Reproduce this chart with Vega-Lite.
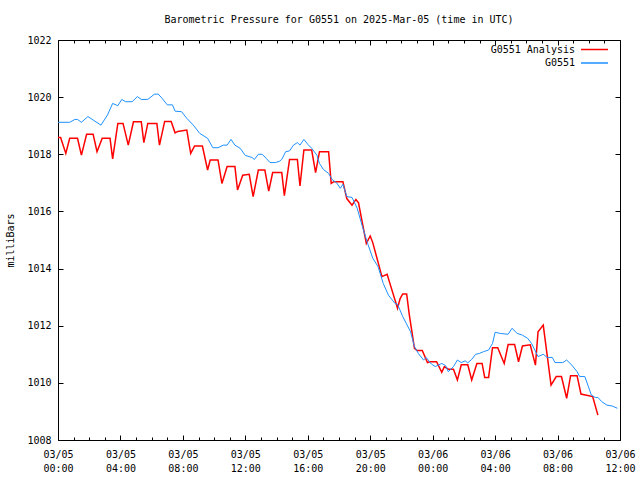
{
  "$schema": "https://vega.github.io/schema/vega-lite/v6.json",
  "width": 562,
  "height": 400,
  "autosize": {"type": "none"},
  "padding": {"left": 58, "top": 40, "right": 20, "bottom": 40},
  "background": "white",
  "title": {
    "text": "Barometric Pressure for G0551 on 2025-Mar-05 (time in UTC)",
    "font": "DejaVu Sans Mono",
    "fontSize": 10,
    "fontWeight": "normal",
    "color": "black",
    "anchor": "middle",
    "frame": "group",
    "offset": 10
  },
  "config": {
    "view": {"stroke": "black", "strokeWidth": 1},
    "axis": {
      "grid": false,
      "domain": false,
      "labelFont": "DejaVu Sans Mono",
      "labelFontSize": 10,
      "labelColor": "black",
      "tickColor": "black",
      "tickWidth": 1,
      "titleFont": "DejaVu Sans Mono",
      "titleFontSize": 10,
      "titleFontWeight": "normal",
      "titleColor": "black"
    },
    "legend": {
      "orient": "none",
      "legendX": 529,
      "legendY": 2,
      "symbolType": "M-2,0H2",
      "symbolSize": 182,
      "symbolStrokeWidth": 1.5,
      "labelFont": "DejaVu Sans Mono",
      "labelFontSize": 10,
      "labelColor": "black",
      "labelAlign": "right",
      "labelOffset": -27,
      "rowPadding": 0.5,
      "padding": 0
    }
  },
  "data": {
    "values": [
      {"t": "2025-03-05T00:00:00Z", "p": 1018.59, "s": "G0551 Analysis"},
      {"t": "2025-03-05T00:10:00Z", "p": 1018.59, "s": "G0551 Analysis"},
      {"t": "2025-03-05T00:30:00Z", "p": 1018.03, "s": "G0551 Analysis"},
      {"t": "2025-03-05T00:45:00Z", "p": 1018.56, "s": "G0551 Analysis"},
      {"t": "2025-03-05T01:15:00Z", "p": 1018.56, "s": "G0551 Analysis"},
      {"t": "2025-03-05T01:30:00Z", "p": 1017.97, "s": "G0551 Analysis"},
      {"t": "2025-03-05T01:50:00Z", "p": 1018.70, "s": "G0551 Analysis"},
      {"t": "2025-03-05T02:15:00Z", "p": 1018.70, "s": "G0551 Analysis"},
      {"t": "2025-03-05T02:30:00Z", "p": 1018.09, "s": "G0551 Analysis"},
      {"t": "2025-03-05T02:50:00Z", "p": 1018.56, "s": "G0551 Analysis"},
      {"t": "2025-03-05T03:20:00Z", "p": 1018.56, "s": "G0551 Analysis"},
      {"t": "2025-03-05T03:30:00Z", "p": 1017.84, "s": "G0551 Analysis"},
      {"t": "2025-03-05T03:50:00Z", "p": 1019.08, "s": "G0551 Analysis"},
      {"t": "2025-03-05T04:10:00Z", "p": 1019.08, "s": "G0551 Analysis"},
      {"t": "2025-03-05T04:30:00Z", "p": 1018.32, "s": "G0551 Analysis"},
      {"t": "2025-03-05T04:50:00Z", "p": 1019.14, "s": "G0551 Analysis"},
      {"t": "2025-03-05T05:20:00Z", "p": 1019.14, "s": "G0551 Analysis"},
      {"t": "2025-03-05T05:30:00Z", "p": 1018.41, "s": "G0551 Analysis"},
      {"t": "2025-03-05T05:45:00Z", "p": 1019.08, "s": "G0551 Analysis"},
      {"t": "2025-03-05T06:20:00Z", "p": 1019.08, "s": "G0551 Analysis"},
      {"t": "2025-03-05T06:30:00Z", "p": 1018.32, "s": "G0551 Analysis"},
      {"t": "2025-03-05T06:50:00Z", "p": 1019.15, "s": "G0551 Analysis"},
      {"t": "2025-03-05T07:15:00Z", "p": 1019.15, "s": "G0551 Analysis"},
      {"t": "2025-03-05T07:30:00Z", "p": 1018.75, "s": "G0551 Analysis"},
      {"t": "2025-03-05T07:40:00Z", "p": 1018.80, "s": "G0551 Analysis"},
      {"t": "2025-03-05T08:15:00Z", "p": 1018.85, "s": "G0551 Analysis"},
      {"t": "2025-03-05T08:30:00Z", "p": 1018.03, "s": "G0551 Analysis"},
      {"t": "2025-03-05T08:45:00Z", "p": 1018.29, "s": "G0551 Analysis"},
      {"t": "2025-03-05T09:15:00Z", "p": 1018.29, "s": "G0551 Analysis"},
      {"t": "2025-03-05T09:35:00Z", "p": 1017.45, "s": "G0551 Analysis"},
      {"t": "2025-03-05T09:45:00Z", "p": 1017.80, "s": "G0551 Analysis"},
      {"t": "2025-03-05T10:15:00Z", "p": 1017.80, "s": "G0551 Analysis"},
      {"t": "2025-03-05T10:30:00Z", "p": 1016.98, "s": "G0551 Analysis"},
      {"t": "2025-03-05T10:50:00Z", "p": 1017.57, "s": "G0551 Analysis"},
      {"t": "2025-03-05T11:20:00Z", "p": 1017.57, "s": "G0551 Analysis"},
      {"t": "2025-03-05T11:30:00Z", "p": 1016.75, "s": "G0551 Analysis"},
      {"t": "2025-03-05T11:50:00Z", "p": 1017.27, "s": "G0551 Analysis"},
      {"t": "2025-03-05T12:15:00Z", "p": 1017.30, "s": "G0551 Analysis"},
      {"t": "2025-03-05T12:30:00Z", "p": 1016.52, "s": "G0551 Analysis"},
      {"t": "2025-03-05T12:50:00Z", "p": 1017.45, "s": "G0551 Analysis"},
      {"t": "2025-03-05T13:15:00Z", "p": 1017.45, "s": "G0551 Analysis"},
      {"t": "2025-03-05T13:30:00Z", "p": 1016.71, "s": "G0551 Analysis"},
      {"t": "2025-03-05T13:45:00Z", "p": 1017.36, "s": "G0551 Analysis"},
      {"t": "2025-03-05T14:20:00Z", "p": 1017.36, "s": "G0551 Analysis"},
      {"t": "2025-03-05T14:30:00Z", "p": 1016.55, "s": "G0551 Analysis"},
      {"t": "2025-03-05T14:50:00Z", "p": 1017.82, "s": "G0551 Analysis"},
      {"t": "2025-03-05T15:20:00Z", "p": 1017.82, "s": "G0551 Analysis"},
      {"t": "2025-03-05T15:30:00Z", "p": 1016.89, "s": "G0551 Analysis"},
      {"t": "2025-03-05T15:45:00Z", "p": 1018.15, "s": "G0551 Analysis"},
      {"t": "2025-03-05T16:15:00Z", "p": 1018.15, "s": "G0551 Analysis"},
      {"t": "2025-03-05T16:30:00Z", "p": 1017.36, "s": "G0551 Analysis"},
      {"t": "2025-03-05T16:45:00Z", "p": 1018.09, "s": "G0551 Analysis"},
      {"t": "2025-03-05T17:20:00Z", "p": 1018.09, "s": "G0551 Analysis"},
      {"t": "2025-03-05T17:30:00Z", "p": 1016.98, "s": "G0551 Analysis"},
      {"t": "2025-03-05T17:40:00Z", "p": 1017.04, "s": "G0551 Analysis"},
      {"t": "2025-03-05T18:15:00Z", "p": 1017.04, "s": "G0551 Analysis"},
      {"t": "2025-03-05T18:30:00Z", "p": 1016.45, "s": "G0551 Analysis"},
      {"t": "2025-03-05T18:50:00Z", "p": 1016.22, "s": "G0551 Analysis"},
      {"t": "2025-03-05T19:05:00Z", "p": 1016.42, "s": "G0551 Analysis"},
      {"t": "2025-03-05T19:15:00Z", "p": 1016.30, "s": "G0551 Analysis"},
      {"t": "2025-03-05T19:45:00Z", "p": 1014.88, "s": "G0551 Analysis"},
      {"t": "2025-03-05T20:00:00Z", "p": 1015.14, "s": "G0551 Analysis"},
      {"t": "2025-03-05T20:10:00Z", "p": 1014.90, "s": "G0551 Analysis"},
      {"t": "2025-03-05T20:45:00Z", "p": 1013.72, "s": "G0551 Analysis"},
      {"t": "2025-03-05T21:05:00Z", "p": 1013.80, "s": "G0551 Analysis"},
      {"t": "2025-03-05T21:15:00Z", "p": 1013.50, "s": "G0551 Analysis"},
      {"t": "2025-03-05T21:45:00Z", "p": 1012.61, "s": "G0551 Analysis"},
      {"t": "2025-03-05T21:55:00Z", "p": 1012.95, "s": "G0551 Analysis"},
      {"t": "2025-03-05T22:05:00Z", "p": 1013.11, "s": "G0551 Analysis"},
      {"t": "2025-03-05T22:20:00Z", "p": 1013.11, "s": "G0551 Analysis"},
      {"t": "2025-03-05T22:30:00Z", "p": 1012.40, "s": "G0551 Analysis"},
      {"t": "2025-03-05T22:50:00Z", "p": 1011.21, "s": "G0551 Analysis"},
      {"t": "2025-03-05T23:00:00Z", "p": 1011.13, "s": "G0551 Analysis"},
      {"t": "2025-03-05T23:20:00Z", "p": 1011.13, "s": "G0551 Analysis"},
      {"t": "2025-03-05T23:40:00Z", "p": 1010.71, "s": "G0551 Analysis"},
      {"t": "2025-03-05T23:50:00Z", "p": 1010.74, "s": "G0551 Analysis"},
      {"t": "2025-03-06T00:15:00Z", "p": 1010.74, "s": "G0551 Analysis"},
      {"t": "2025-03-06T00:35:00Z", "p": 1010.37, "s": "G0551 Analysis"},
      {"t": "2025-03-06T00:45:00Z", "p": 1010.57, "s": "G0551 Analysis"},
      {"t": "2025-03-06T01:00:00Z", "p": 1010.48, "s": "G0551 Analysis"},
      {"t": "2025-03-06T01:20:00Z", "p": 1010.48, "s": "G0551 Analysis"},
      {"t": "2025-03-06T01:35:00Z", "p": 1010.10, "s": "G0551 Analysis"},
      {"t": "2025-03-06T01:50:00Z", "p": 1010.63, "s": "G0551 Analysis"},
      {"t": "2025-03-06T02:15:00Z", "p": 1010.63, "s": "G0551 Analysis"},
      {"t": "2025-03-06T02:30:00Z", "p": 1010.10, "s": "G0551 Analysis"},
      {"t": "2025-03-06T02:50:00Z", "p": 1010.68, "s": "G0551 Analysis"},
      {"t": "2025-03-06T03:10:00Z", "p": 1010.68, "s": "G0551 Analysis"},
      {"t": "2025-03-06T03:20:00Z", "p": 1010.19, "s": "G0551 Analysis"},
      {"t": "2025-03-06T03:35:00Z", "p": 1010.19, "s": "G0551 Analysis"},
      {"t": "2025-03-06T03:50:00Z", "p": 1011.23, "s": "G0551 Analysis"},
      {"t": "2025-03-06T04:10:00Z", "p": 1011.23, "s": "G0551 Analysis"},
      {"t": "2025-03-06T04:35:00Z", "p": 1010.68, "s": "G0551 Analysis"},
      {"t": "2025-03-06T04:50:00Z", "p": 1011.34, "s": "G0551 Analysis"},
      {"t": "2025-03-06T05:15:00Z", "p": 1011.34, "s": "G0551 Analysis"},
      {"t": "2025-03-06T05:30:00Z", "p": 1010.74, "s": "G0551 Analysis"},
      {"t": "2025-03-06T05:45:00Z", "p": 1011.29, "s": "G0551 Analysis"},
      {"t": "2025-03-06T06:15:00Z", "p": 1011.33, "s": "G0551 Analysis"},
      {"t": "2025-03-06T06:35:00Z", "p": 1010.62, "s": "G0551 Analysis"},
      {"t": "2025-03-06T06:45:00Z", "p": 1011.79, "s": "G0551 Analysis"},
      {"t": "2025-03-06T07:05:00Z", "p": 1012.02, "s": "G0551 Analysis"},
      {"t": "2025-03-06T07:35:00Z", "p": 1009.92, "s": "G0551 Analysis"},
      {"t": "2025-03-06T07:55:00Z", "p": 1010.22, "s": "G0551 Analysis"},
      {"t": "2025-03-06T08:15:00Z", "p": 1010.22, "s": "G0551 Analysis"},
      {"t": "2025-03-06T08:35:00Z", "p": 1009.46, "s": "G0551 Analysis"},
      {"t": "2025-03-06T08:50:00Z", "p": 1010.25, "s": "G0551 Analysis"},
      {"t": "2025-03-06T09:15:00Z", "p": 1010.25, "s": "G0551 Analysis"},
      {"t": "2025-03-06T09:30:00Z", "p": 1009.61, "s": "G0551 Analysis"},
      {"t": "2025-03-06T10:15:00Z", "p": 1009.52, "s": "G0551 Analysis"},
      {"t": "2025-03-06T10:35:00Z", "p": 1008.87, "s": "G0551 Analysis"},
      {"t": "2025-03-05T00:00:00Z", "p": 1019.12, "s": "G0551"},
      {"t": "2025-03-05T00:45:00Z", "p": 1019.12, "s": "G0551"},
      {"t": "2025-03-05T01:05:00Z", "p": 1019.22, "s": "G0551"},
      {"t": "2025-03-05T01:15:00Z", "p": 1019.22, "s": "G0551"},
      {"t": "2025-03-05T01:30:00Z", "p": 1019.12, "s": "G0551"},
      {"t": "2025-03-05T01:55:00Z", "p": 1019.32, "s": "G0551"},
      {"t": "2025-03-05T02:15:00Z", "p": 1019.20, "s": "G0551"},
      {"t": "2025-03-05T02:45:00Z", "p": 1019.02, "s": "G0551"},
      {"t": "2025-03-05T03:10:00Z", "p": 1019.37, "s": "G0551"},
      {"t": "2025-03-05T03:30:00Z", "p": 1019.78, "s": "G0551"},
      {"t": "2025-03-05T03:50:00Z", "p": 1019.70, "s": "G0551"},
      {"t": "2025-03-05T04:05:00Z", "p": 1019.92, "s": "G0551"},
      {"t": "2025-03-05T04:20:00Z", "p": 1019.84, "s": "G0551"},
      {"t": "2025-03-05T04:45:00Z", "p": 1019.84, "s": "G0551"},
      {"t": "2025-03-05T05:05:00Z", "p": 1020.02, "s": "G0551"},
      {"t": "2025-03-05T05:20:00Z", "p": 1019.92, "s": "G0551"},
      {"t": "2025-03-05T05:45:00Z", "p": 1019.92, "s": "G0551"},
      {"t": "2025-03-05T06:10:00Z", "p": 1020.10, "s": "G0551"},
      {"t": "2025-03-05T06:25:00Z", "p": 1020.11, "s": "G0551"},
      {"t": "2025-03-05T06:40:00Z", "p": 1019.96, "s": "G0551"},
      {"t": "2025-03-05T07:00:00Z", "p": 1019.73, "s": "G0551"},
      {"t": "2025-03-05T07:20:00Z", "p": 1019.73, "s": "G0551"},
      {"t": "2025-03-05T07:30:00Z", "p": 1019.51, "s": "G0551"},
      {"t": "2025-03-05T07:55:00Z", "p": 1019.49, "s": "G0551"},
      {"t": "2025-03-05T08:15:00Z", "p": 1019.26, "s": "G0551"},
      {"t": "2025-03-05T08:40:00Z", "p": 1019.02, "s": "G0551"},
      {"t": "2025-03-05T09:05:00Z", "p": 1018.73, "s": "G0551"},
      {"t": "2025-03-05T09:35:00Z", "p": 1018.56, "s": "G0551"},
      {"t": "2025-03-05T09:55:00Z", "p": 1018.23, "s": "G0551"},
      {"t": "2025-03-05T10:15:00Z", "p": 1018.23, "s": "G0551"},
      {"t": "2025-03-05T10:35:00Z", "p": 1018.32, "s": "G0551"},
      {"t": "2025-03-05T10:50:00Z", "p": 1018.32, "s": "G0551"},
      {"t": "2025-03-05T11:05:00Z", "p": 1018.52, "s": "G0551"},
      {"t": "2025-03-05T11:20:00Z", "p": 1018.32, "s": "G0551"},
      {"t": "2025-03-05T11:40:00Z", "p": 1018.21, "s": "G0551"},
      {"t": "2025-03-05T12:00:00Z", "p": 1017.96, "s": "G0551"},
      {"t": "2025-03-05T12:25:00Z", "p": 1017.89, "s": "G0551"},
      {"t": "2025-03-05T12:35:00Z", "p": 1017.82, "s": "G0551"},
      {"t": "2025-03-05T12:50:00Z", "p": 1018.00, "s": "G0551"},
      {"t": "2025-03-05T13:05:00Z", "p": 1018.00, "s": "G0551"},
      {"t": "2025-03-05T13:20:00Z", "p": 1017.86, "s": "G0551"},
      {"t": "2025-03-05T13:35:00Z", "p": 1017.71, "s": "G0551"},
      {"t": "2025-03-05T13:55:00Z", "p": 1017.71, "s": "G0551"},
      {"t": "2025-03-05T14:10:00Z", "p": 1017.75, "s": "G0551"},
      {"t": "2025-03-05T14:20:00Z", "p": 1017.82, "s": "G0551"},
      {"t": "2025-03-05T14:35:00Z", "p": 1018.09, "s": "G0551"},
      {"t": "2025-03-05T14:50:00Z", "p": 1018.12, "s": "G0551"},
      {"t": "2025-03-05T15:05:00Z", "p": 1018.32, "s": "G0551"},
      {"t": "2025-03-05T15:20:00Z", "p": 1018.41, "s": "G0551"},
      {"t": "2025-03-05T15:30:00Z", "p": 1018.32, "s": "G0551"},
      {"t": "2025-03-05T15:45:00Z", "p": 1018.52, "s": "G0551"},
      {"t": "2025-03-05T16:00:00Z", "p": 1018.35, "s": "G0551"},
      {"t": "2025-03-05T16:15:00Z", "p": 1018.21, "s": "G0551"},
      {"t": "2025-03-05T16:35:00Z", "p": 1017.97, "s": "G0551"},
      {"t": "2025-03-05T16:45:00Z", "p": 1017.68, "s": "G0551"},
      {"t": "2025-03-05T17:00:00Z", "p": 1017.47, "s": "G0551"},
      {"t": "2025-03-05T17:20:00Z", "p": 1017.33, "s": "G0551"},
      {"t": "2025-03-05T17:35:00Z", "p": 1017.10, "s": "G0551"},
      {"t": "2025-03-05T17:50:00Z", "p": 1017.01, "s": "G0551"},
      {"t": "2025-03-05T18:05:00Z", "p": 1016.81, "s": "G0551"},
      {"t": "2025-03-05T18:15:00Z", "p": 1016.95, "s": "G0551"},
      {"t": "2025-03-05T18:30:00Z", "p": 1016.52, "s": "G0551"},
      {"t": "2025-03-05T18:50:00Z", "p": 1016.49, "s": "G0551"},
      {"t": "2025-03-05T19:10:00Z", "p": 1016.11, "s": "G0551"},
      {"t": "2025-03-05T19:30:00Z", "p": 1015.47, "s": "G0551"},
      {"t": "2025-03-05T19:50:00Z", "p": 1014.88, "s": "G0551"},
      {"t": "2025-03-05T20:10:00Z", "p": 1014.36, "s": "G0551"},
      {"t": "2025-03-05T20:30:00Z", "p": 1014.07, "s": "G0551"},
      {"t": "2025-03-05T20:50:00Z", "p": 1013.48, "s": "G0551"},
      {"t": "2025-03-05T21:10:00Z", "p": 1013.07, "s": "G0551"},
      {"t": "2025-03-05T21:35:00Z", "p": 1012.78, "s": "G0551"},
      {"t": "2025-03-05T21:45:00Z", "p": 1012.75, "s": "G0551"},
      {"t": "2025-03-05T22:05:00Z", "p": 1012.32, "s": "G0551"},
      {"t": "2025-03-05T22:35:00Z", "p": 1011.79, "s": "G0551"},
      {"t": "2025-03-05T22:50:00Z", "p": 1011.27, "s": "G0551"},
      {"t": "2025-03-05T23:05:00Z", "p": 1011.03, "s": "G0551"},
      {"t": "2025-03-05T23:25:00Z", "p": 1010.80, "s": "G0551"},
      {"t": "2025-03-05T23:35:00Z", "p": 1010.89, "s": "G0551"},
      {"t": "2025-03-05T23:55:00Z", "p": 1010.66, "s": "G0551"},
      {"t": "2025-03-06T00:10:00Z", "p": 1010.57, "s": "G0551"},
      {"t": "2025-03-06T00:35:00Z", "p": 1010.68, "s": "G0551"},
      {"t": "2025-03-06T00:50:00Z", "p": 1010.60, "s": "G0551"},
      {"t": "2025-03-06T01:00:00Z", "p": 1010.39, "s": "G0551"},
      {"t": "2025-03-06T01:20:00Z", "p": 1010.57, "s": "G0551"},
      {"t": "2025-03-06T01:35:00Z", "p": 1010.80, "s": "G0551"},
      {"t": "2025-03-06T01:50:00Z", "p": 1010.71, "s": "G0551"},
      {"t": "2025-03-06T02:05:00Z", "p": 1010.77, "s": "G0551"},
      {"t": "2025-03-06T02:15:00Z", "p": 1010.70, "s": "G0551"},
      {"t": "2025-03-06T02:30:00Z", "p": 1010.82, "s": "G0551"},
      {"t": "2025-03-06T02:45:00Z", "p": 1011.00, "s": "G0551"},
      {"t": "2025-03-06T03:00:00Z", "p": 1011.03, "s": "G0551"},
      {"t": "2025-03-06T03:15:00Z", "p": 1011.09, "s": "G0551"},
      {"t": "2025-03-06T03:35:00Z", "p": 1011.15, "s": "G0551"},
      {"t": "2025-03-06T03:50:00Z", "p": 1011.38, "s": "G0551"},
      {"t": "2025-03-06T04:00:00Z", "p": 1011.77, "s": "G0551"},
      {"t": "2025-03-06T04:20:00Z", "p": 1011.73, "s": "G0551"},
      {"t": "2025-03-06T04:50:00Z", "p": 1011.70, "s": "G0551"},
      {"t": "2025-03-06T05:05:00Z", "p": 1011.91, "s": "G0551"},
      {"t": "2025-03-06T05:25:00Z", "p": 1011.73, "s": "G0551"},
      {"t": "2025-03-06T05:45:00Z", "p": 1011.67, "s": "G0551"},
      {"t": "2025-03-06T06:05:00Z", "p": 1011.56, "s": "G0551"},
      {"t": "2025-03-06T06:20:00Z", "p": 1011.38, "s": "G0551"},
      {"t": "2025-03-06T06:45:00Z", "p": 1010.92, "s": "G0551"},
      {"t": "2025-03-06T07:05:00Z", "p": 1011.00, "s": "G0551"},
      {"t": "2025-03-06T07:20:00Z", "p": 1010.89, "s": "G0551"},
      {"t": "2025-03-06T07:40:00Z", "p": 1010.89, "s": "G0551"},
      {"t": "2025-03-06T07:50:00Z", "p": 1010.71, "s": "G0551"},
      {"t": "2025-03-06T08:20:00Z", "p": 1010.71, "s": "G0551"},
      {"t": "2025-03-06T08:35:00Z", "p": 1010.80, "s": "G0551"},
      {"t": "2025-03-06T08:55:00Z", "p": 1010.62, "s": "G0551"},
      {"t": "2025-03-06T09:15:00Z", "p": 1010.39, "s": "G0551"},
      {"t": "2025-03-06T09:25:00Z", "p": 1010.22, "s": "G0551"},
      {"t": "2025-03-06T09:45:00Z", "p": 1010.22, "s": "G0551"},
      {"t": "2025-03-06T09:55:00Z", "p": 1009.96, "s": "G0551"},
      {"t": "2025-03-06T10:10:00Z", "p": 1009.57, "s": "G0551"},
      {"t": "2025-03-06T10:25:00Z", "p": 1009.49, "s": "G0551"},
      {"t": "2025-03-06T10:35:00Z", "p": 1009.49, "s": "G0551"},
      {"t": "2025-03-06T10:50:00Z", "p": 1009.34, "s": "G0551"},
      {"t": "2025-03-06T11:10:00Z", "p": 1009.22, "s": "G0551"},
      {"t": "2025-03-06T11:30:00Z", "p": 1009.19, "s": "G0551"},
      {"t": "2025-03-06T11:50:00Z", "p": 1009.11, "s": "G0551"}
    ]
  },
  "layer": [
    {
      "transform": [{"filter": "datum.s === 'G0551 Analysis'"}],
      "mark": {"type": "line", "strokeWidth": 1.5},
      "encoding": {
        "x": {
          "field": "t", "type": "temporal",
          "scale": {"type": "utc", "nice": false, "domain": [{"year": 2025, "month": 3, "date": 5, "hours": 0, "utc": true}, {"year": 2025, "month": 3, "date": 6, "hours": 12, "utc": true}]},
          "axis": {
            "orient": "bottom", "title": null, "ticks": false, "labelPadding": 9, "labelLineHeight": 14, "labelFlush": false,
            "labelExpr": "[utcFormat(datum.value, '%m/%d'), utcFormat(datum.value, '%H:%M')]",
            "values": [
              {"year": 2025, "month": 3, "date": 5, "hours": 0, "utc": true},
              {"year": 2025, "month": 3, "date": 5, "hours": 4, "utc": true},
              {"year": 2025, "month": 3, "date": 5, "hours": 8, "utc": true},
              {"year": 2025, "month": 3, "date": 5, "hours": 12, "utc": true},
              {"year": 2025, "month": 3, "date": 5, "hours": 16, "utc": true},
              {"year": 2025, "month": 3, "date": 5, "hours": 20, "utc": true},
              {"year": 2025, "month": 3, "date": 6, "hours": 0, "utc": true},
              {"year": 2025, "month": 3, "date": 6, "hours": 4, "utc": true},
              {"year": 2025, "month": 3, "date": 6, "hours": 8, "utc": true},
              {"year": 2025, "month": 3, "date": 6, "hours": 12, "utc": true}
            ]
          }
        },
        "y": {
          "field": "p", "type": "quantitative",
          "scale": {"domain": [1008, 1022], "nice": false, "zero": false},
          "axis": {"orient": "left", "title": "milliBars", "format": "d", "ticks": false, "labelPadding": 7, "titlePadding": 11, "values": [1008, 1010, 1012, 1014, 1016, 1018, 1020, 1022], "labelFlush": false}
        },
        "color": {
          "field": "s", "type": "nominal", "title": null,
          "scale": {"domain": ["G0551 Analysis", "G0551"], "range": ["#ff0000", "#1e90ff"]}
        }
      }
    },
    {
      "transform": [{"filter": "datum.s === 'G0551'"}],
      "mark": {"type": "line", "strokeWidth": 1},
      "encoding": {
        "x": {
          "field": "t", "type": "temporal",
          "axis": {
            "orient": "top", "title": null, "labels": false, "tickSize": -5,
            "values": [
              {"year": 2025, "month": 3, "date": 5, "hours": 0, "utc": true},
              {"year": 2025, "month": 3, "date": 5, "hours": 4, "utc": true},
              {"year": 2025, "month": 3, "date": 5, "hours": 8, "utc": true},
              {"year": 2025, "month": 3, "date": 5, "hours": 12, "utc": true},
              {"year": 2025, "month": 3, "date": 5, "hours": 16, "utc": true},
              {"year": 2025, "month": 3, "date": 5, "hours": 20, "utc": true},
              {"year": 2025, "month": 3, "date": 6, "hours": 0, "utc": true},
              {"year": 2025, "month": 3, "date": 6, "hours": 4, "utc": true},
              {"year": 2025, "month": 3, "date": 6, "hours": 8, "utc": true},
              {"year": 2025, "month": 3, "date": 6, "hours": 12, "utc": true}
            ]
          }
        },
        "y": {
          "field": "p", "type": "quantitative",
          "axis": {"orient": "right", "title": null, "labels": false, "tickSize": -5, "values": [1008, 1010, 1012, 1014, 1016, 1018, 1020, 1022]}
        },
        "color": {"field": "s", "type": "nominal"}
      }
    },
    {
      "mark": {"type": "line", "opacity": 0},
      "encoding": {
        "x": {
          "field": "t", "type": "temporal",
          "axis": {
            "orient": "bottom", "title": null, "labels": false, "tickSize": -5,
            "values": [
              {"year": 2025, "month": 3, "date": 5, "hours": 0, "utc": true},
              {"year": 2025, "month": 3, "date": 5, "hours": 4, "utc": true},
              {"year": 2025, "month": 3, "date": 5, "hours": 8, "utc": true},
              {"year": 2025, "month": 3, "date": 5, "hours": 12, "utc": true},
              {"year": 2025, "month": 3, "date": 5, "hours": 16, "utc": true},
              {"year": 2025, "month": 3, "date": 5, "hours": 20, "utc": true},
              {"year": 2025, "month": 3, "date": 6, "hours": 0, "utc": true},
              {"year": 2025, "month": 3, "date": 6, "hours": 4, "utc": true},
              {"year": 2025, "month": 3, "date": 6, "hours": 8, "utc": true},
              {"year": 2025, "month": 3, "date": 6, "hours": 12, "utc": true}
            ]
          }
        },
        "y": {
          "field": "p", "type": "quantitative",
          "axis": {"orient": "left", "title": null, "labels": false, "tickSize": -5, "values": [1008, 1010, 1012, 1014, 1016, 1018, 1020, 1022]}
        }
      }
    },
    {
      "mark": {"type": "line", "opacity": 0},
      "encoding": {
        "x": {
          "field": "t", "type": "temporal",
          "axis": {
            "orient": "bottom", "title": null, "labels": false, "tickSize": -3,
            "values": [
              {"year": 2025, "month": 3, "date": 5, "hours": 1, "utc": true},
              {"year": 2025, "month": 3, "date": 5, "hours": 2, "utc": true},
              {"year": 2025, "month": 3, "date": 5, "hours": 3, "utc": true},
              {"year": 2025, "month": 3, "date": 5, "hours": 5, "utc": true},
              {"year": 2025, "month": 3, "date": 5, "hours": 6, "utc": true},
              {"year": 2025, "month": 3, "date": 5, "hours": 7, "utc": true},
              {"year": 2025, "month": 3, "date": 5, "hours": 9, "utc": true},
              {"year": 2025, "month": 3, "date": 5, "hours": 10, "utc": true},
              {"year": 2025, "month": 3, "date": 5, "hours": 11, "utc": true},
              {"year": 2025, "month": 3, "date": 5, "hours": 13, "utc": true},
              {"year": 2025, "month": 3, "date": 5, "hours": 14, "utc": true},
              {"year": 2025, "month": 3, "date": 5, "hours": 15, "utc": true},
              {"year": 2025, "month": 3, "date": 5, "hours": 17, "utc": true},
              {"year": 2025, "month": 3, "date": 5, "hours": 18, "utc": true},
              {"year": 2025, "month": 3, "date": 5, "hours": 19, "utc": true},
              {"year": 2025, "month": 3, "date": 5, "hours": 21, "utc": true},
              {"year": 2025, "month": 3, "date": 5, "hours": 22, "utc": true},
              {"year": 2025, "month": 3, "date": 5, "hours": 23, "utc": true},
              {"year": 2025, "month": 3, "date": 6, "hours": 1, "utc": true},
              {"year": 2025, "month": 3, "date": 6, "hours": 2, "utc": true},
              {"year": 2025, "month": 3, "date": 6, "hours": 3, "utc": true},
              {"year": 2025, "month": 3, "date": 6, "hours": 5, "utc": true},
              {"year": 2025, "month": 3, "date": 6, "hours": 6, "utc": true},
              {"year": 2025, "month": 3, "date": 6, "hours": 7, "utc": true},
              {"year": 2025, "month": 3, "date": 6, "hours": 9, "utc": true},
              {"year": 2025, "month": 3, "date": 6, "hours": 10, "utc": true},
              {"year": 2025, "month": 3, "date": 6, "hours": 11, "utc": true}
            ]
          }
        },
        "y": {"field": "p", "type": "quantitative", "axis": null}
      }
    },
    {
      "mark": {"type": "line", "opacity": 0},
      "encoding": {
        "x": {
          "field": "t", "type": "temporal",
          "axis": {
            "orient": "top", "title": null, "labels": false, "tickSize": -3,
            "values": [
              {"year": 2025, "month": 3, "date": 5, "hours": 1, "utc": true},
              {"year": 2025, "month": 3, "date": 5, "hours": 2, "utc": true},
              {"year": 2025, "month": 3, "date": 5, "hours": 3, "utc": true},
              {"year": 2025, "month": 3, "date": 5, "hours": 5, "utc": true},
              {"year": 2025, "month": 3, "date": 5, "hours": 6, "utc": true},
              {"year": 2025, "month": 3, "date": 5, "hours": 7, "utc": true},
              {"year": 2025, "month": 3, "date": 5, "hours": 9, "utc": true},
              {"year": 2025, "month": 3, "date": 5, "hours": 10, "utc": true},
              {"year": 2025, "month": 3, "date": 5, "hours": 11, "utc": true},
              {"year": 2025, "month": 3, "date": 5, "hours": 13, "utc": true},
              {"year": 2025, "month": 3, "date": 5, "hours": 14, "utc": true},
              {"year": 2025, "month": 3, "date": 5, "hours": 15, "utc": true},
              {"year": 2025, "month": 3, "date": 5, "hours": 17, "utc": true},
              {"year": 2025, "month": 3, "date": 5, "hours": 18, "utc": true},
              {"year": 2025, "month": 3, "date": 5, "hours": 19, "utc": true},
              {"year": 2025, "month": 3, "date": 5, "hours": 21, "utc": true},
              {"year": 2025, "month": 3, "date": 5, "hours": 22, "utc": true},
              {"year": 2025, "month": 3, "date": 5, "hours": 23, "utc": true},
              {"year": 2025, "month": 3, "date": 6, "hours": 1, "utc": true},
              {"year": 2025, "month": 3, "date": 6, "hours": 2, "utc": true},
              {"year": 2025, "month": 3, "date": 6, "hours": 3, "utc": true},
              {"year": 2025, "month": 3, "date": 6, "hours": 5, "utc": true},
              {"year": 2025, "month": 3, "date": 6, "hours": 6, "utc": true},
              {"year": 2025, "month": 3, "date": 6, "hours": 7, "utc": true},
              {"year": 2025, "month": 3, "date": 6, "hours": 9, "utc": true},
              {"year": 2025, "month": 3, "date": 6, "hours": 10, "utc": true},
              {"year": 2025, "month": 3, "date": 6, "hours": 11, "utc": true}
            ]
          }
        },
        "y": {"field": "p", "type": "quantitative", "axis": null}
      }
    }
  ],
  "resolve": {"axis": {"x": "independent", "y": "independent"}}
}
